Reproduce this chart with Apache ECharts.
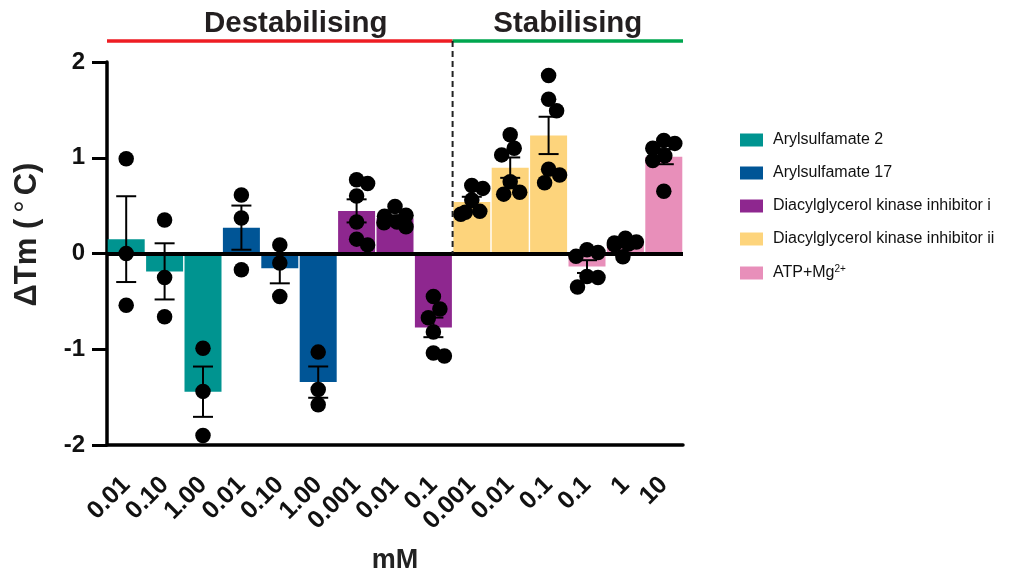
<!DOCTYPE html>
<html><head><meta charset="utf-8">
<script src="https://cdn.jsdelivr.net/npm/echarts@6/dist/echarts.min.js"></script>
<style>html,body{margin:0;padding:0;background:#fff}#c{width:1022px;height:573px}</style>
</head><body><div id="c"></div>
<script>
// ---- data ----
const categories = ['0.01','0.10','1.00','0.01','0.10','1.00','0.001','0.01','0.1','0.001','0.01','0.1','0.1','1','10'];
const seriesNames = ['Arylsulfamate 2','Arylsulfamate 17','Diacylglycerol kinase inhibitor i','Diacylglycerol kinase inhibitor ii','ATP+Mg2+'];
const seriesColors = ['#009490','#005596','#8e278f','#fdd47c','#e88fba'];
// individual replicate ΔTm values (°C) per concentration
const aryl2Points  = [[0.99, 0.00, -0.54], [0.35, -0.25, -0.66], [-0.99, -1.44, -1.90]];
const aryl17Points = [[0.61, 0.37, -0.17], [0.09, -0.10, -0.45], [-1.03, -1.42, -1.58]];
const dgkiPoints   = [[0.77, 0.73, 0.60, 0.33, 0.15, 0.09], [0.49, 0.40, 0.39, 0.33, 0.32, 0.28], [-0.45, -0.58, -0.67, -0.82, -1.04, -1.07]];
const dgkiiPoints  = [[0.71, 0.68, 0.56, 0.44, 0.43, 0.41], [1.24, 1.10, 1.03, 0.75, 0.64, 0.62], [1.86, 1.61, 1.49, 0.88, 0.82, 0.74]];
const atpPoints    = [[0.04, 0.01, -0.03, -0.24, -0.25, -0.35], [0.16, 0.12, 0.11, 0.10, 0.09, -0.035], [1.18, 1.15, 1.10, 1.02, 0.97, 0.65]];
const groupLabels = ['Destabilising', 'Stabilising'];
const groupSplitAfter = 8; // last category index of the destabilising group
const yMin = -2, yMax = 2, yInterval = 1;

// ---- derived ----
const allGroups = [aryl2Points, aryl17Points, dgkiPoints, dgkiiPoints, atpPoints];
const pointsByCat = [], groupOfCat = [];
allGroups.forEach((g, gi) => g.forEach(p => { pointsByCat.push(p); groupOfCat.push(gi); }));
const mean = a => a.reduce((s, v) => s + v, 0) / a.length;
const sem = a => { const m = mean(a); const sd = Math.sqrt(a.reduce((s, v) => s + (v - m) * (v - m), 0) / (a.length - 1)); return sd / Math.sqrt(a.length); };
const means = pointsByCat.map(mean);
const sems = pointsByCat.map(sem);

const FONT = "'Liberation Sans', Arial, sans-serif";
const chart = echarts.init(document.getElementById('c'), null, {renderer: 'canvas'});

const barSeries = seriesNames.map((name, gi) => ({
  name, type: 'bar', barWidth: 37, barGap: '-100%', z: 2,
  itemStyle: {color: seriesColors[gi]},
  data: means.map((m, i) => groupOfCat[i] === gi ? +m.toFixed(4) : null),
  markLine: gi === 0 ? {
    silent: true, symbol: 'none', animation: false, z: 5,
    label: {show: false},
    lineStyle: {color: '#000', width: 4, type: 'solid'},
    data: [{yAxis: 0}]
  } : undefined
}));

const errSeries = {
  type: 'custom', z: 3, silent: true,
  data: means.map((m, i) => [i, m, sems[i]]),
  encode: {x: 0, y: 1},
  renderItem: (params, api) => {
    const x = api.value(0), m = api.value(1), s = api.value(2);
    const t = api.coord([x, m + s]), b = api.coord([x, m - s]);
    const hw = 10;
    const st = {stroke: '#000', lineWidth: 2};
    return {type: 'group', children: [
      {type: 'line', shape: {x1: t[0], y1: t[1], x2: b[0], y2: b[1]}, style: st},
      {type: 'line', shape: {x1: t[0] - hw, y1: t[1], x2: t[0] + hw, y2: t[1]}, style: st},
      {type: 'line', shape: {x1: b[0] - hw, y1: b[1], x2: b[0] + hw, y2: b[1]}, style: st}
    ]};
  }
};

function scatterData(pxPerUnit) {
  const D = 14, maxOff = 11;
  const out = [];
  pointsByCat.forEach((pts, ci) => {
    const order = pts.map((v, k) => k).sort((a, b) => pts[b] - pts[a]);
    const placed = [];
    order.forEach(k => {
      const y = pts[k] * pxPerUnit;
      let best = 0, bestScore = Infinity;
      for (let x = 0; x <= maxOff; x += 0.5) {
        for (const sx of (x === 0 ? [0] : [x, -x])) {
          let pen = 0;
          placed.forEach(p => { const d = Math.hypot(p.x - sx, p.y - y); if (d < D) pen += (D - d); });
          const score = pen * 10 + Math.abs(sx) * 0.3;
          if (score < bestScore - 1e-9) { bestScore = score; best = sx; }
        }
      }
      placed.push({x: best, y});
      out.push({value: [ci, pts[k]], symbolOffset: [best, 0]});
    });
  });
  return out;
}

const option = {
  animation: false,
  backgroundColor: '#fff',
  textStyle: {fontFamily: FONT},
  grid: {left: 107, right: 339, top: 62, bottom: 128, containLabel: false, outerBoundsMode: 'none'},
  legend: {
    data: seriesNames, orient: 'vertical', left: 735, top: 127,
    icon: 'rect', itemWidth: 23, itemHeight: 13, itemGap: 17,
    textStyle: {fontFamily: FONT, fontSize: 16, color: '#111', padding: [0, 0, 0, 5],
      rich: {n: {fontFamily: FONT, fontSize: 16, color: '#111'}, s: {fontFamily: FONT, fontSize: 10, color: '#111', verticalAlign: 'top', padding: [0, 0, 8, 0]}}},
    formatter: name => name === 'ATP+Mg2+' ? '{n|ATP+Mg}{s|2+}' : name,
    selectedMode: false
  },
  xAxis: {
    type: 'category', data: categories, position: 'bottom',
    name: 'mM', nameLocation: 'middle', nameGap: 102,
    nameTextStyle: {fontFamily: FONT, fontSize: 27, fontWeight: 'bold', color: '#222'},
    axisLine: {onZero: false, lineStyle: {color: '#000', width: 3.5}},
    axisTick: {alignWithLabel: true, length: 15, lineStyle: {color: '#000', width: 3}},
    axisLabel: {rotate: 45, interval: 0, margin: 36, fontFamily: FONT, fontSize: 25, fontWeight: 'bold', color: '#111'}
  },
  yAxis: {
    type: 'value', min: yMin, max: yMax, interval: yInterval,
    name: '{a|ΔTm (}{b|°}{a|C)}', nameLocation: 'middle', nameGap: 64, nameRotate: 90,
    nameTextStyle: {fontFamily: FONT, fontSize: 31, fontWeight: 'bold', color: '#222', padding: [0, 0, 0, 38],
      rich: {a: {fontFamily: FONT, fontSize: 31, fontWeight: 'bold', color: '#222'},
             b: {fontFamily: FONT, fontSize: 31, fontWeight: 'normal', color: '#222', padding: [0, 5, 0, 6]}}},
    axisLine: {show: true, lineStyle: {color: '#000', width: 3.5}},
    axisTick: {show: true, length: 15, lineStyle: {color: '#000', width: 3}},
    axisLabel: {margin: 22, fontFamily: FONT, fontSize: 24, fontWeight: 'bold', color: '#111'},
    splitLine: {show: false}
  },
  series: [...barSeries, errSeries,
    {type: 'scatter', z: 6, symbol: 'circle', symbolSize: 15.5, itemStyle: {color: '#000', opacity: 1}, data: []}]
};
chart.setOption(option);

// second pass: layout-dependent pieces
const px0 = chart.convertToPixel({yAxisIndex: 0}, 0);
const px1 = chart.convertToPixel({yAxisIndex: 0}, 1);
const pxPerUnit = px0 - px1;
const cx = i => chart.convertToPixel({xAxisIndex: 0}, i);
const band = cx(1) - cx(0);
const xLeft = cx(0) - band / 2, xRight = cx(categories.length - 1) + band / 2;
const xSplit = (cx(groupSplitAfter) + cx(groupSplitAfter + 1)) / 2;
const yTopAxis = chart.convertToPixel({yAxisIndex: 0}, yMax);
const lineY = yTopAxis - 21;
const titleFont = "bold 29.5px 'Liberation Sans', Arial, sans-serif";

chart.setOption({
  series: [...barSeries.map(() => ({})), {}, {data: scatterData(pxPerUnit)}],
  graphic: [
    {type: 'line', z: 10, shape: {x1: xLeft, y1: lineY, x2: xSplit, y2: lineY}, style: {stroke: '#ee1d23', lineWidth: 3.5}},
    {type: 'line', z: 10, shape: {x1: xSplit, y1: lineY, x2: xRight, y2: lineY}, style: {stroke: '#00a64f', lineWidth: 3.5}},
    {type: 'line', z: 10, shape: {x1: xSplit, y1: lineY, x2: xSplit, y2: px0}, style: {stroke: '#222', lineWidth: 2, lineDash: [6, 4]}},
    {type: 'text', z: 10, x: (xLeft + xSplit) / 2 + 16, y: lineY - 17,
      style: {text: groupLabels[0], font: titleFont, fill: '#231f20', align: 'center', verticalAlign: 'middle'}},
    {type: 'text', z: 10, x: (xSplit + xRight) / 2, y: lineY - 17,
      style: {text: groupLabels[1], font: titleFont, fill: '#231f20', align: 'center', verticalAlign: 'middle'}}
  ]
});
</script></body></html>
